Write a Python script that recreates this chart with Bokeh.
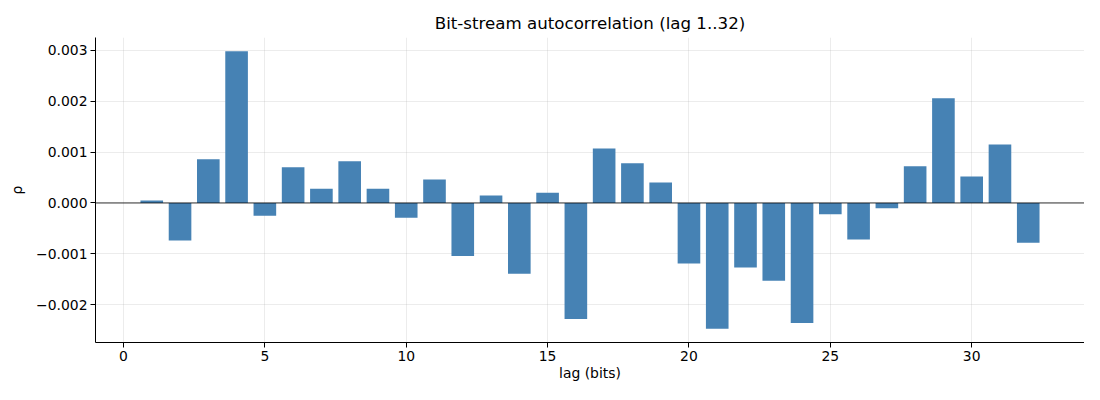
from bokeh.plotting import figure
from bokeh.models import Range1d, FixedTicker, CustomJSTickFormatter, Span, ColumnDataSource
from bokeh.embed import file_html
from bokeh.resources import INLINE

lags = list(range(1, 33))
rho = [0.00005, -0.00074, 0.00086, 0.00298, -0.00025, 0.00070, 0.00028, 0.00082,
       0.00028, -0.00029, 0.00046, -0.00104, 0.000145, -0.00139, 0.00020, -0.00228,
       0.00107, 0.00078, 0.00040, -0.00119, -0.00247, -0.00127, -0.00153, -0.00236,
       -0.00022, -0.00072, -0.000105, 0.00072, 0.00206, 0.00052, 0.00115, -0.00078]
x_ticks = [0, 5, 10, 15, 20, 25, 30]
y_ticks = [-0.002, -0.001, 0.0, 0.001, 0.002, 0.003]

bar_w = 0.8
xlo, xhi = lags[0] - bar_w / 2, lags[-1] + bar_w / 2
xm = (xhi - xlo) * 0.05
ylo, yhi = min(rho), max(rho)
ym = (yhi - ylo) * 0.05

FONT = "DejaVu Sans"
p = figure(width=1084, height=384, output_backend="svg", toolbar_location=None,
           x_range=Range1d(xlo - xm, xhi + xm), y_range=Range1d(ylo - ym, yhi + ym),
           min_border_left=95, min_border_right=0, min_border_top=37, min_border_bottom=42,
           title="Bit-stream autocorrelation (lag 1..32)")
p.title.align = "center"
p.title.text_font = FONT
p.title.text_font_size = "16.67px"
p.title.text_font_style = "normal"
p.title.text_color = "black"
p.outline_line_color = None

src = ColumnDataSource(dict(x=lags, top=rho))
p.vbar(x="x", top="top", bottom=0, width=bar_w, source=src, fill_color="#4682b4",
       line_color=None)
p.add_layout(Span(location=0, dimension="width", line_color="black", line_width=0.8))

p.xaxis.ticker = FixedTicker(ticks=x_ticks)
p.yaxis.ticker = FixedTicker(ticks=y_ticks)
p.yaxis.formatter = CustomJSTickFormatter(
    code="return (tick < -1e-12 ? '\u2212' : '') + Math.abs(tick).toFixed(3);")
for ax in (p.xaxis, p.yaxis):
    ax.major_label_text_font = FONT
    ax.major_label_text_font_size = "13.9px"
    ax.major_label_text_color = "black"
    ax.axis_label_text_font = FONT
    ax.axis_label_text_font_size = "13.9px"
    ax.axis_label_text_font_style = "normal"
    ax.axis_label_text_color = "black"
    ax.minor_tick_line_color = None
    ax.major_tick_in = 0
    ax.major_tick_out = 5
    ax.major_label_standoff = 3
    ax.axis_line_color = "black"
    ax.major_tick_line_color = "black"
p.xaxis.axis_label_standoff = 1
p.yaxis.axis_label_standoff = 8
p.xaxis.axis_label = "lag (bits)"
p.yaxis.axis_label = "ρ"
p.grid.grid_line_color = "#b0b0b0"
p.grid.grid_line_alpha = 0.3
p.grid.grid_line_width = 0.8

open("out.html", "w").write(file_html(p, INLINE))
